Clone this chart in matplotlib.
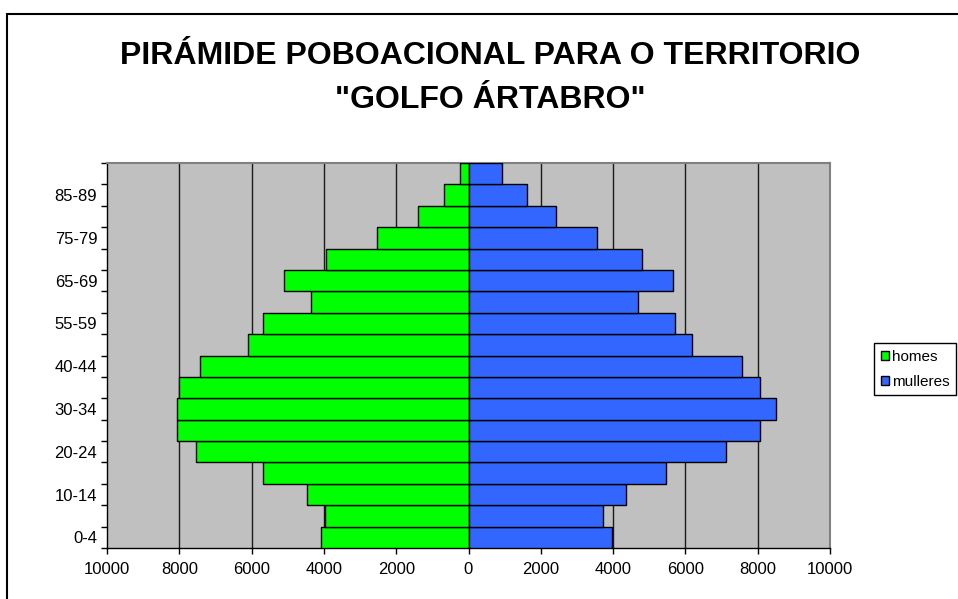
import matplotlib
matplotlib.use("Agg")
import matplotlib.pyplot as plt
from matplotlib.patches import Rectangle, Patch
import numpy as np

plt.rcParams['font.family'] = ['Liberation Sans', 'DejaVu Sans']

# Data
age_groups = ["0-4", "5-9", "10-14", "15-19", "20-24", "25-29", "30-34", "35-39",
              "40-44", "45-54", "55-59", "60-64", "65-69", "70-74", "75-79",
              "80-84", "85-89", "90+"]
homes = [4070, 3960, 4480, 5680, 7530, 8050, 8060, 8010, 7420, 6100,
         5680, 4370, 5100, 3930, 2530, 1390, 680, 240]
mulleres = [3970, 3720, 4360, 5450, 7130, 8070, 8500, 8070, 7570, 6170,
            5700, 4700, 5670, 4790, 3560, 2430, 1630, 920]
shown_labels = ["0-4", "10-14", "20-24", "30-34", "40-44", "55-59", "65-69", "75-79", "85-89"]
x_ticks = [-10000, -8000, -6000, -4000, -2000, 0, 2000, 4000, 6000, 8000, 10000]
title = 'PIRÁMIDE POBOACIONAL PARA O TERRITORIO\n"GOLFO ÁRTABRO"'

W, H = 958, 599
fig = plt.figure(figsize=(W / 100, H / 100), dpi=100)
fig.patch.set_facecolor('white')

# outer border
fig.patches.append(Rectangle((7 / W, -0.05), 1.2, 1 - 14 / H + 0.05, transform=fig.transFigure,
                             fill=False, edgecolor='black', linewidth=1.5, zorder=0))

left, right, top, bottom = 107, 830, 163, 548
ax = fig.add_axes([left / W, (H - bottom) / H, (right - left) / W, (bottom - top) / H])
ax.set_facecolor('#C0C0C0')

y = np.arange(len(age_groups))
ax.barh(y, [-v for v in homes], height=1.0, color='#00FF00', edgecolor='black',
        linewidth=1.0, zorder=3, label='homes')
ax.barh(y, mulleres, height=1.0, color='#3366FF', edgecolor='black',
        linewidth=1.0, zorder=3, label='mulleres')

ax.set_xlim(-10000, 10000)
ax.set_ylim(-0.5, len(age_groups) - 0.5)

for gx in x_ticks[1:-1]:
    ax.axvline(gx, color='#1a1a1a', linewidth=1.0, zorder=1)

ax.set_xticks(x_ticks)
ax.set_xticklabels([str(abs(v)) for v in x_ticks], fontsize=12)
ax.tick_params(axis='x', direction='out', length=4, width=1, pad=6, colors='black')

# y ticks: marks at boundaries, labels at every other category
ax.set_yticks(np.arange(-0.5, len(age_groups), 1.0))
ax.set_yticklabels([])
ax.tick_params(axis='y', which='major', direction='out', length=4, width=1)
label_pos = [age_groups.index(l) for l in shown_labels]
ax.set_yticks(label_pos, minor=True)
ax.set_yticklabels(shown_labels, minor=True, fontsize=12)
ax.tick_params(axis='y', which='minor', length=0, pad=7)

for s in ['top', 'right']:
    ax.spines[s].set_color('#808080')
    ax.spines[s].set_linewidth(1.5)
for s in ['left', 'bottom']:
    ax.spines[s].set_color('black')
    ax.spines[s].set_linewidth(1.0)

fig.text(490 / W, 1 - 78 / H, title, ha='center', va='center', fontsize=23,
         fontweight='bold', linespacing=1.6)

handles = [Patch(facecolor='#00FF00', edgecolor='black', linewidth=1),
           Patch(facecolor='#3366FF', edgecolor='black', linewidth=1)]
leg = fig.legend(handles, ['homes', 'mulleres'], loc='upper left',
                 bbox_to_anchor=(874 / W, 1 - 343 / H), fontsize=11,
                 frameon=True, fancybox=False, edgecolor='black', framealpha=1,
                 handlelength=0.5, handleheight=0.5, handletextpad=0.2,
                 labelspacing=0.7, borderpad=0.45, borderaxespad=0)
leg.get_frame().set_linewidth(1.0)

fig.savefig('out.png', dpi=100)
